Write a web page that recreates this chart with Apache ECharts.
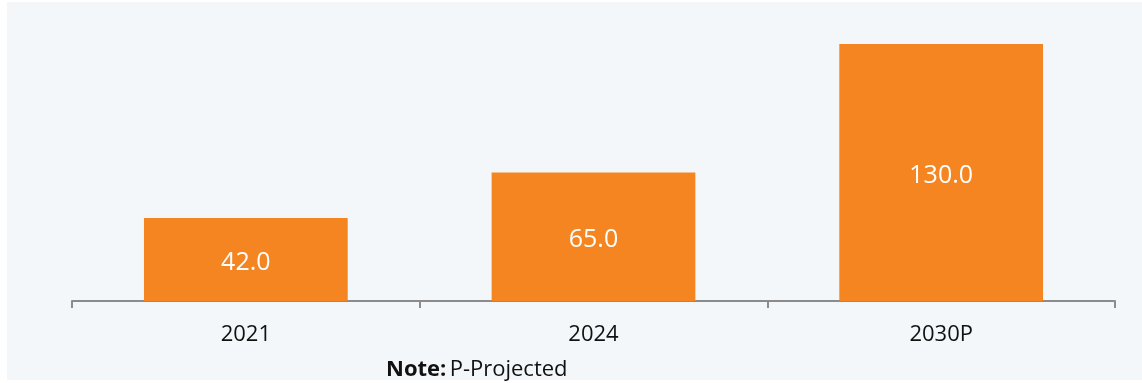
<!DOCTYPE html>
<html>
<head>
<meta charset="utf-8">
<script src="https://cdn.jsdelivr.net/npm/echarts@6/dist/echarts.min.js"></script>
<style>
  html, body { margin: 0; padding: 0; background: #ffffff; }
  #chart { width: 1142px; height: 383px; }
</style>
</head>
<body>
<div id="chart"></div>
<script>
// Market size by year (P = projected)
const categories = ['2021', '2024', '2030P'];
const values = [42.0, 65.0, 130.0];

const chart = echarts.init(document.getElementById('chart'), null, { renderer: 'canvas' });

const FONT = '"Open Sans", "Liberation Sans", sans-serif';

chart.setOption({
  animation: false,
  backgroundColor: '#ffffff',
  graphic: [
    {
      type: 'rect',
      z: -10,
      silent: true,
      shape: { x: 7, y: 2, width: 1135, height: 378 },
      style: { fill: '#f4f7f9' }
    },
    {
      type: 'text',
      left: 386,
      top: 359,
      style: {
        text: '{b|Note:} {n|P-Projected}',
        rich: {
          b: { fontFamily: FONT, fontSize: 22, fontWeight: 'bold', fill: '#111111' },
          n: { fontFamily: FONT, fontSize: 22, fill: '#111111' }
        }
      }
    }
  ],
  grid: { left: 72, right: 27, top: 44, bottom: 82 },
  xAxis: {
    type: 'category',
    data: categories,
    axisLine: { show: true, lineStyle: { color: '#8c8c8c', width: 2 } },
    axisTick: { show: true, length: 7, lineStyle: { color: '#8c8c8c', width: 2 } },
    axisLabel: { color: '#111111', fontFamily: FONT, fontSize: 22, margin: 23 }
  },
  yAxis: {
    type: 'value',
    min: 0,
    max: 130,
    show: false,
    splitLine: { show: false }
  },
  series: [
    {
      type: 'bar',
      data: values,
      barWidth: '58.6%',
      itemStyle: { color: '#f58520' },
      label: {
        show: true,
        position: 'inside',
        offset: [0, 3],
        color: '#ffffff',
        fontFamily: FONT,
        fontSize: 25,
        formatter: (p) => p.value.toFixed(1)
      }
    }
  ]
});
</script>
</body>
</html>
